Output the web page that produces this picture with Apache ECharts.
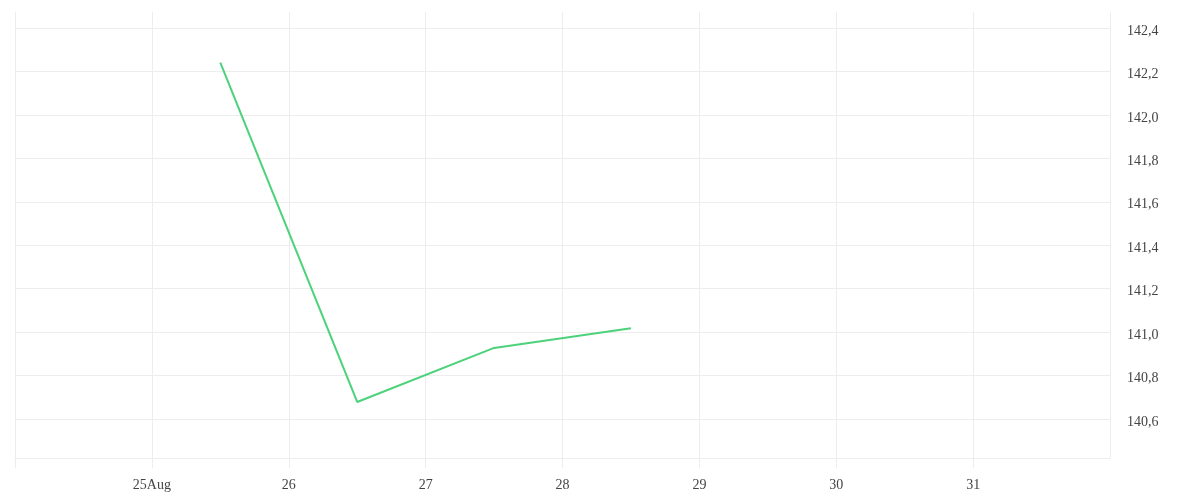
<!DOCTYPE html>
<html>
<head>
<meta charset="utf-8">
<script src="https://cdn.jsdelivr.net/npm/echarts@6/dist/echarts.min.js"></script>
<style>
html,body{margin:0;padding:0;background:#fff;}
#chart{width:1200px;height:500px;}
</style>
</head>
<body>
<div id="chart"></div>
<script>
// Data
const dates = ['2025-08-25T12:00:00', '2025-08-26T12:00:00', '2025-08-27T12:00:00', '2025-08-28T12:00:00'];
const values = [142.241, 140.678, 140.927, 141.018];
// Tick labels by day of month
const dayLabels = {25: '25Aug', 26: '26', 27: '27', 28: '28', 29: '29', 30: '30', 31: '31'};
const xMin = '2025-08-24T00:00:00';
const xMax = '2025-09-01T00:00:00';
const yMin = 140.42;
const yMax = 142.474;

const chart = echarts.init(document.getElementById('chart'), null, {renderer: 'canvas'});
const gridColor = '#ededed';
const font = 'Liberation Serif';
const textColor = '#444';
chart.setOption({
  animation: false,
  backgroundColor: '#ffffff',
  grid: {left: 15, right: 90, top: 12, bottom: 42, containLabel: false},
  xAxis: {
    type: 'time',
    min: new Date(xMin).getTime(),
    max: new Date(xMax).getTime(),
    interval: 24 * 3600 * 1000,
    minInterval: 24 * 3600 * 1000,
    maxInterval: 24 * 3600 * 1000,
    axisLine: {show: true, lineStyle: {color: gridColor, width: 1}},
    axisTick: {show: true, length: 10, lineStyle: {color: gridColor}},
    splitLine: {show: true, lineStyle: {color: gridColor, width: 1}},
    axisLabel: {
      show: true,
      showMinLabel: false,
      showMaxLabel: false,
      margin: 20,
      color: textColor,
      fontFamily: font,
      fontSize: 14,
      formatter: function (v) {
        const d = new Date(v);
        const lbl = dayLabels[d.getDate()];
        return lbl === undefined ? '' : lbl;
      }
    }
  },
  yAxis: {
    type: 'value',
    position: 'right',
    min: yMin,
    max: yMax,
    splitNumber: 10,
    scale: true,
    axisLine: {show: true, lineStyle: {color: gridColor, width: 1}},
    axisTick: {show: false},
    splitLine: {show: true, showMinLine: false, showMaxLine: false, lineStyle: {color: gridColor, width: 1}},
    axisLabel: {
      show: true,
      showMinLabel: false,
      showMaxLabel: false,
      margin: 17,
      verticalAlign: 'top',
      lineHeight: 6,
      color: textColor,
      fontFamily: font,
      fontSize: 14,
      formatter: function (v) {
        return v.toFixed(1).replace('.', ',');
      }
    }
  },
  series: [{
    type: 'line',
    data: dates.map((d, i) => [new Date(d).getTime(), values[i]]),
    showSymbol: false,
    symbol: 'none',
    lineStyle: {color: '#4cd27a', width: 2},
    itemStyle: {color: '#4cd27a'}
  }]
});
</script>
</body>
</html>
